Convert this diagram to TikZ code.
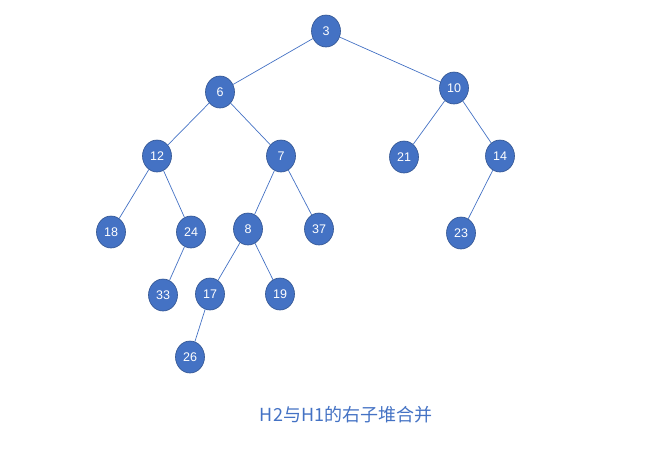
\documentclass[tikz,border=0pt]{standalone}
\usepackage{fontspec}
\setmainfont{Liberation Sans}
\newfontfamily\cjk{Noto Sans CJK SC}
\usetikzlibrary{shapes.geometric}
\definecolor{nodefill}{HTML}{4472C4}
\definecolor{nodeedge}{HTML}{2F528F}
\definecolor{linkcol}{HTML}{4472C4}
\begin{document}
\begin{tikzpicture}[x=1pt,y=-1pt,
  heapnode/.style={ellipse,fill=nodefill,draw=nodeedge,line width=0.6pt,
    minimum width=29pt,minimum height=32pt,inner sep=0pt,
    text=white,font=\fontsize{12.5}{14}\selectfont},
  link/.style={draw=linkcol,line width=0.7pt}]
\useasboundingbox (0,0) rectangle (655,448);
% tree nodes
\node[heapnode] (n3)  at (326,31)  {3};
\node[heapnode] (n6)  at (220,92)  {6};
\node[heapnode] (n10) at (454,88)  {10};
\node[heapnode] (n12) at (157,156) {12};
\node[heapnode] (n7)  at (281,156) {7};
\node[heapnode] (n21) at (404,157) {21};
\node[heapnode] (n14) at (500,156) {14};
\node[heapnode] (n18) at (111,232) {18};
\node[heapnode] (n24) at (191,232) {24};
\node[heapnode] (n8)  at (248,229) {8};
\node[heapnode] (n37) at (319,229) {37};
\node[heapnode] (n23) at (461,233) {23};
\node[heapnode] (n33) at (163,295) {33};
\node[heapnode] (n17) at (210,294) {17};
\node[heapnode] (n19) at (280,294) {19};
\node[heapnode] (n26) at (190,357) {26};
% parent-child links
\path[link] (n3) -- (n6);
\path[link] (n3) -- (n10);
\path[link] (n6) -- (n12);
\path[link] (n6) -- (n7);
\path[link] (n10) -- (n21);
\path[link] (n10) -- (n14);
\path[link] (n12) -- (n18);
\path[link] (n12) -- (n24);
\path[link] (n7) -- (n8);
\path[link] (n7) -- (n37);
\path[link] (n14) -- (n23);
\path[link] (n24) -- (n33);
\path[link] (n8) -- (n17);
\path[link] (n8) -- (n19);
\path[link] (n17) -- (n26);
% caption
\node[text=nodefill,font=\cjk\fontsize{18}{22}\selectfont] (cap) at (346,415) {H2与H1的右子堆合并};
\end{tikzpicture}
\end{document}
